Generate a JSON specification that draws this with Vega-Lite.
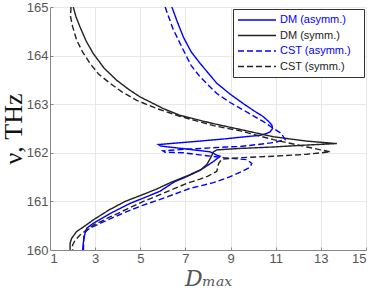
{
  "$schema": "https://vega.github.io/schema/vega-lite/v6.json",
  "width": 316,
  "height": 243,
  "autosize": {"type": "none"},
  "padding": {"left": 50, "top": 7, "right": 8, "bottom": 40},
  "background": "white",
  "config": {
    "view": {"stroke": null},
    "axis": {
      "labelFont": "Liberation Sans",
      "labelFontSize": 13,
      "labelColor": "#555555",
      "domainColor": "#888888",
      "tickColor": "#888888",
      "gridColor": "#e8e8e8",
      "gridWidth": 1,
      "tickSize": -3,
      "labelPadding": 5
    },
    "legend": {
      "title": null,
      "orient": "top-right",
      "offset": 2,
      "padding": 5,
      "strokeColor": "#333333",
      "fillColor": "white",
      "symbolType": "M-1.2,0H6.4",
      "symbolSize": 100,
      "symbolStrokeWidth": 1.5,
      "labelFont": "Liberation Sans",
      "labelFontSize": 11,
      "labelOffset": 30,
      "rowPadding": 4.5
    }
  },
  "data": {
    "values": [
      {"s": "DM (asymm.)", "o": 1, "x": 6.40, "y": 165.00},
      {"s": "DM (asymm.)", "o": 2, "x": 6.62, "y": 164.72},
      {"s": "DM (asymm.)", "o": 3, "x": 6.91, "y": 164.38},
      {"s": "DM (asymm.)", "o": 4, "x": 7.25, "y": 164.08},
      {"s": "DM (asymm.)", "o": 5, "x": 7.65, "y": 163.84},
      {"s": "DM (asymm.)", "o": 6, "x": 8.39, "y": 163.43},
      {"s": "DM (asymm.)", "o": 7, "x": 9.00, "y": 163.20},
      {"s": "DM (asymm.)", "o": 8, "x": 9.57, "y": 163.01},
      {"s": "DM (asymm.)", "o": 9, "x": 10.05, "y": 162.86},
      {"s": "DM (asymm.)", "o": 10, "x": 10.46, "y": 162.74},
      {"s": "DM (asymm.)", "o": 11, "x": 10.72, "y": 162.63},
      {"s": "DM (asymm.)", "o": 12, "x": 10.83, "y": 162.57},
      {"s": "DM (asymm.)", "o": 13, "x": 10.86, "y": 162.50},
      {"s": "DM (asymm.)", "o": 14, "x": 10.75, "y": 162.43},
      {"s": "DM (asymm.)", "o": 15, "x": 10.55, "y": 162.39},
      {"s": "DM (asymm.)", "o": 16, "x": 10.31, "y": 162.36},
      {"s": "DM (asymm.)", "o": 17, "x": 9.43, "y": 162.32},
      {"s": "DM (asymm.)", "o": 18, "x": 8.83, "y": 162.29},
      {"s": "DM (asymm.)", "o": 19, "x": 7.36, "y": 162.23},
      {"s": "DM (asymm.)", "o": 20, "x": 5.80, "y": 162.17},
      {"s": "DM (asymm.)", "o": 21, "x": 5.90, "y": 162.14},
      {"s": "DM (asymm.)", "o": 22, "x": 7.00, "y": 162.08},
      {"s": "DM (asymm.)", "o": 23, "x": 8.10, "y": 162.02},
      {"s": "DM (asymm.)", "o": 24, "x": 8.35, "y": 161.96},
      {"s": "DM (asymm.)", "o": 25, "x": 8.54, "y": 161.93},
      {"s": "DM (asymm.)", "o": 26, "x": 8.24, "y": 161.82},
      {"s": "DM (asymm.)", "o": 27, "x": 7.65, "y": 161.64},
      {"s": "DM (asymm.)", "o": 28, "x": 7.06, "y": 161.51},
      {"s": "DM (asymm.)", "o": 29, "x": 6.50, "y": 161.40},
      {"s": "DM (asymm.)", "o": 30, "x": 5.88, "y": 161.21},
      {"s": "DM (asymm.)", "o": 31, "x": 5.20, "y": 161.08},
      {"s": "DM (asymm.)", "o": 32, "x": 4.55, "y": 160.96},
      {"s": "DM (asymm.)", "o": 33, "x": 3.66, "y": 160.75},
      {"s": "DM (asymm.)", "o": 34, "x": 2.92, "y": 160.55},
      {"s": "DM (asymm.)", "o": 35, "x": 2.63, "y": 160.45},
      {"s": "DM (asymm.)", "o": 36, "x": 2.55, "y": 160.34},
      {"s": "DM (asymm.)", "o": 37, "x": 2.48, "y": 160.17},
      {"s": "DM (asymm.)", "o": 38, "x": 2.45, "y": 160.00},

      {"s": "DM (symm.)", "o": 1, "x": 2.03, "y": 165.00},
      {"s": "DM (symm.)", "o": 2, "x": 2.15, "y": 164.80},
      {"s": "DM (symm.)", "o": 3, "x": 2.33, "y": 164.59},
      {"s": "DM (symm.)", "o": 4, "x": 2.60, "y": 164.30},
      {"s": "DM (symm.)", "o": 5, "x": 2.92, "y": 164.04},
      {"s": "DM (symm.)", "o": 6, "x": 3.40, "y": 163.74},
      {"s": "DM (symm.)", "o": 7, "x": 3.96, "y": 163.49},
      {"s": "DM (symm.)", "o": 8, "x": 4.50, "y": 163.30},
      {"s": "DM (symm.)", "o": 9, "x": 4.99, "y": 163.15},
      {"s": "DM (symm.)", "o": 10, "x": 6.02, "y": 162.91},
      {"s": "DM (symm.)", "o": 11, "x": 6.76, "y": 162.77},
      {"s": "DM (symm.)", "o": 12, "x": 8.24, "y": 162.60},
      {"s": "DM (symm.)", "o": 13, "x": 9.43, "y": 162.48},
      {"s": "DM (symm.)", "o": 14, "x": 10.90, "y": 162.33},
      {"s": "DM (symm.)", "o": 15, "x": 12.38, "y": 162.24},
      {"s": "DM (symm.)", "o": 16, "x": 13.71, "y": 162.19},
      {"s": "DM (symm.)", "o": 17, "x": 12.38, "y": 162.16},
      {"s": "DM (symm.)", "o": 18, "x": 10.90, "y": 162.12},
      {"s": "DM (symm.)", "o": 19, "x": 9.43, "y": 162.09},
      {"s": "DM (symm.)", "o": 20, "x": 8.39, "y": 162.06},
      {"s": "DM (symm.)", "o": 21, "x": 8.24, "y": 162.02},
      {"s": "DM (symm.)", "o": 22, "x": 8.12, "y": 161.90},
      {"s": "DM (symm.)", "o": 23, "x": 7.95, "y": 161.76},
      {"s": "DM (symm.)", "o": 24, "x": 7.70, "y": 161.66},
      {"s": "DM (symm.)", "o": 25, "x": 7.15, "y": 161.54},
      {"s": "DM (symm.)", "o": 26, "x": 6.40, "y": 161.40},
      {"s": "DM (symm.)", "o": 27, "x": 5.70, "y": 161.25},
      {"s": "DM (symm.)", "o": 28, "x": 5.00, "y": 161.12},
      {"s": "DM (symm.)", "o": 29, "x": 4.33, "y": 161.00},
      {"s": "DM (symm.)", "o": 30, "x": 3.60, "y": 160.82},
      {"s": "DM (symm.)", "o": 31, "x": 2.92, "y": 160.62},
      {"s": "DM (symm.)", "o": 32, "x": 2.50, "y": 160.48},
      {"s": "DM (symm.)", "o": 33, "x": 2.18, "y": 160.38},
      {"s": "DM (symm.)", "o": 34, "x": 1.96, "y": 160.24},
      {"s": "DM (symm.)", "o": 35, "x": 1.89, "y": 160.14},
      {"s": "DM (symm.)", "o": 36, "x": 1.89, "y": 160.00},

      {"s": "CST (asymm.)", "o": 1, "x": 6.10, "y": 165.00},
      {"s": "CST (asymm.)", "o": 2, "x": 6.45, "y": 164.55},
      {"s": "CST (asymm.)", "o": 3, "x": 6.91, "y": 164.11},
      {"s": "CST (asymm.)", "o": 4, "x": 7.25, "y": 163.80},
      {"s": "CST (asymm.)", "o": 5, "x": 7.65, "y": 163.56},
      {"s": "CST (asymm.)", "o": 6, "x": 8.39, "y": 163.22},
      {"s": "CST (asymm.)", "o": 7, "x": 9.00, "y": 163.03},
      {"s": "CST (asymm.)", "o": 8, "x": 9.57, "y": 162.88},
      {"s": "CST (asymm.)", "o": 9, "x": 10.46, "y": 162.64},
      {"s": "CST (asymm.)", "o": 10, "x": 10.90, "y": 162.50},
      {"s": "CST (asymm.)", "o": 11, "x": 11.25, "y": 162.40},
      {"s": "CST (asymm.)", "o": 12, "x": 11.42, "y": 162.27},
      {"s": "CST (asymm.)", "o": 13, "x": 10.90, "y": 162.21},
      {"s": "CST (asymm.)", "o": 14, "x": 10.20, "y": 162.17},
      {"s": "CST (asymm.)", "o": 15, "x": 9.43, "y": 162.13},
      {"s": "CST (asymm.)", "o": 16, "x": 8.83, "y": 162.12},
      {"s": "CST (asymm.)", "o": 17, "x": 6.91, "y": 162.07},
      {"s": "CST (asymm.)", "o": 18, "x": 6.00, "y": 162.04},
      {"s": "CST (asymm.)", "o": 19, "x": 6.10, "y": 162.01},
      {"s": "CST (asymm.)", "o": 20, "x": 6.91, "y": 162.00},
      {"s": "CST (asymm.)", "o": 21, "x": 7.95, "y": 161.94},
      {"s": "CST (asymm.)", "o": 22, "x": 8.69, "y": 161.90},
      {"s": "CST (asymm.)", "o": 23, "x": 9.72, "y": 161.86},
      {"s": "CST (asymm.)", "o": 24, "x": 9.94, "y": 161.78},
      {"s": "CST (asymm.)", "o": 25, "x": 9.85, "y": 161.70},
      {"s": "CST (asymm.)", "o": 26, "x": 9.43, "y": 161.60},
      {"s": "CST (asymm.)", "o": 27, "x": 8.83, "y": 161.48},
      {"s": "CST (asymm.)", "o": 28, "x": 8.20, "y": 161.38},
      {"s": "CST (asymm.)", "o": 29, "x": 7.21, "y": 161.27},
      {"s": "CST (asymm.)", "o": 30, "x": 5.88, "y": 161.04},
      {"s": "CST (asymm.)", "o": 31, "x": 5.10, "y": 160.92},
      {"s": "CST (asymm.)", "o": 32, "x": 4.40, "y": 160.79},
      {"s": "CST (asymm.)", "o": 33, "x": 3.36, "y": 160.58},
      {"s": "CST (asymm.)", "o": 34, "x": 2.77, "y": 160.45},
      {"s": "CST (asymm.)", "o": 35, "x": 2.58, "y": 160.38},
      {"s": "CST (asymm.)", "o": 36, "x": 2.50, "y": 160.28},
      {"s": "CST (asymm.)", "o": 37, "x": 2.48, "y": 160.00},

      {"s": "CST (symm.)", "o": 1, "x": 1.93, "y": 165.00},
      {"s": "CST (symm.)", "o": 2, "x": 1.91, "y": 164.80},
      {"s": "CST (symm.)", "o": 3, "x": 2.00, "y": 164.60},
      {"s": "CST (symm.)", "o": 4, "x": 2.18, "y": 164.32},
      {"s": "CST (symm.)", "o": 5, "x": 2.45, "y": 164.07},
      {"s": "CST (symm.)", "o": 6, "x": 2.77, "y": 163.84},
      {"s": "CST (symm.)", "o": 7, "x": 3.15, "y": 163.62},
      {"s": "CST (symm.)", "o": 8, "x": 3.66, "y": 163.43},
      {"s": "CST (symm.)", "o": 9, "x": 4.20, "y": 163.25},
      {"s": "CST (symm.)", "o": 10, "x": 4.84, "y": 163.08},
      {"s": "CST (symm.)", "o": 11, "x": 5.73, "y": 162.91},
      {"s": "CST (symm.)", "o": 12, "x": 6.76, "y": 162.75},
      {"s": "CST (symm.)", "o": 13, "x": 8.24, "y": 162.56},
      {"s": "CST (symm.)", "o": 14, "x": 9.43, "y": 162.45},
      {"s": "CST (symm.)", "o": 15, "x": 10.90, "y": 162.27},
      {"s": "CST (symm.)", "o": 16, "x": 12.38, "y": 162.12},
      {"s": "CST (symm.)", "o": 17, "x": 13.42, "y": 162.02},
      {"s": "CST (symm.)", "o": 18, "x": 12.38, "y": 161.97},
      {"s": "CST (symm.)", "o": 19, "x": 10.90, "y": 161.93},
      {"s": "CST (symm.)", "o": 20, "x": 9.43, "y": 161.90},
      {"s": "CST (symm.)", "o": 21, "x": 8.61, "y": 161.87},
      {"s": "CST (symm.)", "o": 22, "x": 8.47, "y": 161.78},
      {"s": "CST (symm.)", "o": 23, "x": 8.39, "y": 161.62},
      {"s": "CST (symm.)", "o": 24, "x": 8.00, "y": 161.52},
      {"s": "CST (symm.)", "o": 25, "x": 7.65, "y": 161.46},
      {"s": "CST (symm.)", "o": 26, "x": 7.06, "y": 161.37},
      {"s": "CST (symm.)", "o": 27, "x": 5.88, "y": 161.14},
      {"s": "CST (symm.)", "o": 28, "x": 5.14, "y": 161.00},
      {"s": "CST (symm.)", "o": 29, "x": 4.40, "y": 160.84},
      {"s": "CST (symm.)", "o": 30, "x": 3.66, "y": 160.68},
      {"s": "CST (symm.)", "o": 31, "x": 2.92, "y": 160.51},
      {"s": "CST (symm.)", "o": 32, "x": 2.33, "y": 160.31},
      {"s": "CST (symm.)", "o": 33, "x": 2.11, "y": 160.20},
      {"s": "CST (symm.)", "o": 34, "x": 2.00, "y": 160.10},
      {"s": "CST (symm.)", "o": 35, "x": 2.00, "y": 160.00}
    ]
  },
  "mark": {"type": "line", "strokeWidth": 1.4, "clip": true},
  "encoding": {
    "x": {
      "field": "x",
      "type": "quantitative",
      "scale": {"domain": [1, 15], "nice": false, "zero": false},
      "axis": {
        "values": [1, 3, 5, 7, 9, 11, 13, 15],
        "title": "Dₘₐₓ",
        "titleFont": "DejaVu Serif",
        "titleFontStyle": "italic",
        "titleFontWeight": "normal",
        "titleFontSize": 22,
        "titleColor": "#555555",
        "titlePadding": 3
      }
    },
    "y": {
      "field": "y",
      "type": "quantitative",
      "scale": {"domain": [160, 165], "nice": false, "zero": false},
      "axis": {
        "values": [160, 161, 162, 163, 164, 165],
        "title": "ν, THz",
        "titleFont": "Liberation Serif",
        "titleFontWeight": "normal",
        "titleFontSize": 26,
        "titleColor": "#111111",
        "titlePadding": 0
      }
    },
    "color": {
      "field": "s",
      "type": "nominal",
      "scale": {
        "domain": ["DM (asymm.)", "DM (symm.)", "CST (asymm.)", "CST (symm.)"],
        "range": ["#0000ff", "#222222", "#0000ff", "#222222"]
      },
      "legend": {
        "labelExpr": "datum.label + '\u2800'",
        "encode": {"labels": {"update": {
          "fill": {"signal": "indexof(datum.label, 'asymm') >= 0 ? '#0000ff' : '#222222'"}
        }}}
      }
    },
    "strokeDash": {
      "field": "s",
      "type": "nominal",
      "scale": {
        "domain": ["DM (asymm.)", "DM (symm.)", "CST (asymm.)", "CST (symm.)"],
        "range": [[1, 0], [1, 0], [6, 3], [6, 3]]
      },
      "legend": {
        "labelExpr": "datum.label + '\u2800'",
        "encode": {"labels": {"update": {
          "fill": {"signal": "indexof(datum.label, 'asymm') >= 0 ? '#0000ff' : '#222222'"}
        }}}
      }
    },
    "order": {"field": "o", "type": "quantitative"}
  }
}
